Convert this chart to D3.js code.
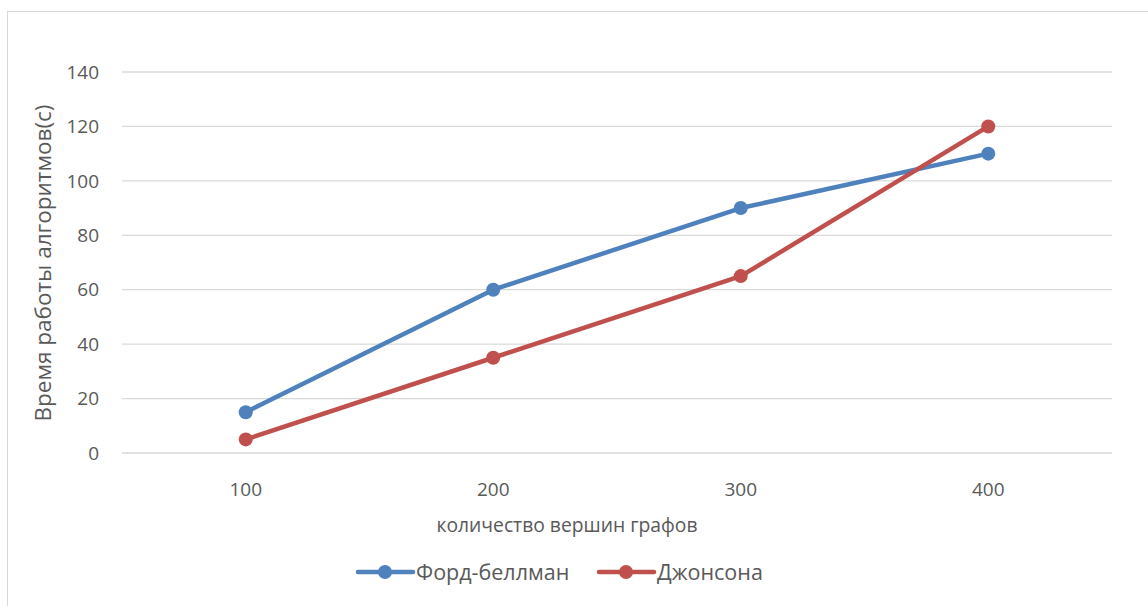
<!DOCTYPE html>
<html>
<head>
<meta charset="utf-8">
<script src="https://cdn.jsdelivr.net/npm/d3@7"></script>
<style>
  body { margin: 0; background: #fff; }
  text { font-family: "Open Sans", "Noto Sans", sans-serif; fill: #595959; }
</style>
</head>
<body>
<svg id="chart" width="1148" height="606"></svg>
<script>
const categories = ["100", "200", "300", "400"];
const fordBellman = [15, 60, 90, 110];
const johnson = [5, 35, 65, 120];
const yTicks = [0, 20, 40, 60, 80, 100, 120, 140];
const seriesNames = ["Форд-беллман", "Джонсона"];
const seriesColors = ["#4f81bd", "#c0504d"];

const svg = d3.select("#chart");

// outer chart border (right/bottom clipped off like the picture)
svg.append("rect")
  .attr("x", 7.5).attr("y", 11.5)
  .attr("width", 1160).attr("height", 620)
  .attr("fill", "#fff").attr("stroke", "#d9d9d9").attr("stroke-width", 1);

const plotLeft = 122, plotRight = 1112, plotTop = 72, plotBottom = 453;

const x = d3.scaleBand().domain(categories).range([plotLeft, plotRight]);
const y = d3.scaleLinear().domain([0, 140]).range([plotBottom, plotTop]);

// gridlines
svg.append("g")
  .selectAll("line")
  .data(yTicks)
  .join("line")
  .attr("x1", plotLeft).attr("x2", plotRight)
  .attr("y1", (d) => y(d)).attr("y2", (d) => y(d))
  .attr("stroke", "#d9d9d9").attr("stroke-width", 1.3);

// y tick labels
svg.append("g")
  .selectAll("text")
  .data(yTicks)
  .join("text")
  .attr("x", 99).attr("y", (d) => y(d))
  .attr("dy", "0.35em")
  .attr("text-anchor", "end")
  .attr("font-size", 19)
  .text((d) => d);

// x tick labels
svg.append("g")
  .selectAll("text")
  .data(categories)
  .join("text")
  .attr("x", (d) => x(d) + x.bandwidth() / 2)
  .attr("y", 496)
  .attr("text-anchor", "middle")
  .attr("font-size", 19)
  .text((d) => d);

// axis titles
svg.append("text")
  .attr("x", 567).attr("y", 532)
  .attr("text-anchor", "middle")
  .attr("font-size", 19.3)
  .text("количество вершин графов");

svg.append("text")
  .attr("transform", "translate(51,263) rotate(-90)")
  .attr("text-anchor", "middle")
  .attr("font-size", 22.5)
  .text("Время работы алгоритмов(с)");

// series
const line = d3.line()
  .x((d, i) => x(categories[i]) + x.bandwidth() / 2)
  .y((d) => y(d));

[fordBellman, johnson].forEach((vals, k) => {
  const g = svg.append("g");
  g.append("path")
    .attr("d", line(vals))
    .attr("fill", "none")
    .attr("stroke", seriesColors[k])
    .attr("stroke-width", 4.5)
    .attr("stroke-linejoin", "round")
    .attr("stroke-linecap", "round");
  g.selectAll("circle")
    .data(vals)
    .join("circle")
    .attr("cx", (d, i) => x(categories[i]) + x.bandwidth() / 2)
    .attr("cy", (d) => y(d))
    .attr("r", 7)
    .attr("fill", seriesColors[k]);
});

// legend
const legendX = [358, 599];
const legend = svg.append("g");
seriesNames.forEach((name, k) => {
  const lx = legendX[k], ly = 572;
  legend.append("line")
    .attr("x1", lx).attr("x2", lx + 55)
    .attr("y1", ly).attr("y2", ly)
    .attr("stroke", seriesColors[k]).attr("stroke-width", 4.5)
    .attr("stroke-linecap", "round");
  legend.append("circle")
    .attr("cx", lx + 27).attr("cy", ly).attr("r", 7)
    .attr("fill", seriesColors[k]);
  legend.append("text")
    .attr("x", lx + 58).attr("y", ly)
    .attr("dy", "0.35em")
    .attr("font-size", 21.5)
    .text(name);
});
</script>
</body>
</html>
